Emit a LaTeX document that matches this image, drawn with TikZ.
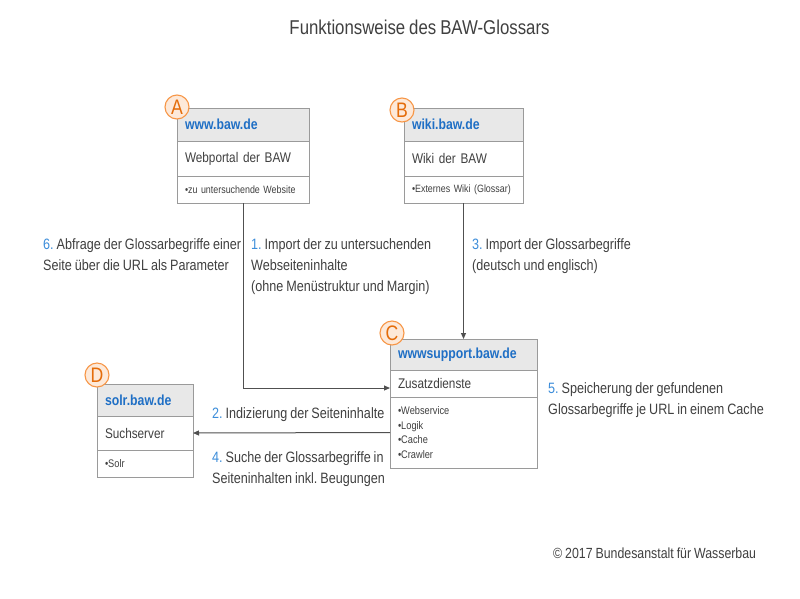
\documentclass[tikz,border=0pt]{standalone}
\usepackage{fontspec}
\setmainfont{Liberation Sans}[FakeStretch=0.84,WordSpace=0.85]
\usetikzlibrary{arrows.meta,calc,backgrounds}
\frenchspacing
\definecolor{txt}{HTML}{404040}
\definecolor{blu}{HTML}{1F6FC5}
\definecolor{numb}{HTML}{3C8DDA}
\definecolor{hdr}{HTML}{E8E8E8}
\definecolor{brd}{HTML}{9A9A9A}
\definecolor{orf}{HTML}{FDE9D9}
\definecolor{orb}{HTML}{F79646}
\definecolor{ort}{HTML}{E46C0A}
\definecolor{arrc}{HTML}{505050}
\definecolor{shd}{HTML}{E4E2D8}
\definecolor{shd2}{HTML}{F1F0EA}
\newcommand\nr[1]{\rule{0pt}{12pt}\textcolor{numb}{#1}}
\begin{document}
\begin{tikzpicture}[x=1pt,y=-1pt,
  sec/.style={draw=brd, line width=0.9pt, anchor=north west, inner ysep=0pt, inner xsep=8pt, align=left, outer sep=0pt, fill=white},
  hd/.style={sec, fill=hdr, text=blu, font={\fontsize{14.6}{16}\selectfont\bfseries}},
  md/.style={sec, text=txt, font={\fontsize{14}{16}\selectfont}},
  bt/.style={sec, text=txt, font={\fontsize{10.6}{14.7}\selectfont}},
  btc/.style={sec, text=txt, font={\fontsize{11}{14.7}\selectfont}},
  badge/.style={circle, draw=orb, fill=orf, line width=1.1pt, minimum size=24pt, inner sep=0pt, text=ort, font={\fontsize{21}{21}\selectfont}},
  lbl/.style={anchor=north west, inner sep=0pt, align=left, text=txt, font={\fontsize{15}{21}\selectfont}},
  arr/.style={draw=arrc, line width=1pt, -{Triangle[length=6pt,width=5pt]}},
]
\useasboundingbox[fill=white] (0,0) rectangle (800,598);

% Title
\node[anchor=base, inner sep=0pt, text=txt, font={\fontsize{20}{22}\selectfont}] (title) at (419.5,34) {Funktionsweise des BAW-Glossars};

% Box A
\node[hd, text width=116pt, minimum height=33pt] (Ahead) at (177,108) {www.baw.de};
\node[md, text width=116pt, minimum height=35pt] (Amid) at (Ahead.south west) {Webportal der BAW};
\node[bt, text width=116pt, minimum height=27pt] (Abot) at (Amid.south west) {•zu untersuchende Website};
% Box B
\node[hd, text width=103pt, minimum height=33pt] (Bhead) at (404,108) {wiki.baw.de};
\node[md, text width=103pt, minimum height=35pt] (Bmid) at (Bhead.south west) {Wiki der BAW};
\node[bt, text width=103pt, minimum height=27pt] (Bbot) at (Bmid.south west) {•Externes Wiki (Glossar)};
% Box C
\node[hd, text width=131pt, minimum height=31pt] (Chead) at (390,339) {wwwsupport.baw.de};
\node[md, text width=131pt, minimum height=27pt] (Cmid) at (Chead.south west) {Zusatzdienste};
\node[btc, text width=131pt, minimum height=71pt] (Cbot) at (Cmid.south west) {•Webservice\\•Logik\\•Cache\\•Crawler};
% Box D
\node[hd, text width=80pt, minimum height=32pt] (Dhead) at (97,384) {solr.baw.de};
\node[md, text width=80pt, minimum height=34pt] (Dmid) at (Dhead.south west) {Suchserver};
\node[btc, text width=80pt, minimum height=27pt] (Dbot) at (Dmid.south west) {•Solr};

% shadows
\begin{scope}[on background layer]
\foreach \h/\b in {Ahead/Abot, Bhead/Bbot, Chead/Cbot, Dhead/Dbot}{
  \fill[shd2] ($(\h.north west)+(4.5,4.5)$) rectangle ($(\b.south east)+(4.5,4.5)$);
  \fill[shd] ($(\h.north west)+(2.5,2.5)$) rectangle ($(\b.south east)+(2.5,2.5)$);
}
\end{scope}

% badges
\node[badge] (Abadge) at (177,107) {A};
\node[badge] (Bbadge) at (402,110) {B};
\node[badge] (Cbadge) at (392,333) {C};
\node[badge] (Dbadge) at (97,375) {D};

% connectors
\draw[arr] (Abot.south) |- ([yshift=-4.5pt]Cmid.west);
\draw[arr] (Bbot.south) -- (Chead.north);
\draw[arr] (Cbot.west) -- (Dmid.east);

% labels (top = first baseline - 12)
\node[lbl] (L6) at (43,237) {\nr{6.} Abfrage der Glossarbegriffe einer\\Seite über die URL als Parameter};
\node[lbl] (L1) at (251,237) {\nr{1.} Import der zu untersuchenden\\Webseiteninhalte\\(ohne Menüstruktur und Margin)};
\node[lbl] (L3) at (472,237) {\nr{3.} Import der Glossarbegriffe\\(deutsch und englisch)};
\node[lbl] (L5) at (548,381) {\nr{5.} Speicherung der gefundenen\\Glossarbegriffe je URL in einem Cache};
\node[lbl] (L2) at (212,406) {\nr{2.} Indizierung der Seiteninhalte};
\node[lbl] (L4) at (212,450) {\nr{4.} Suche der Glossarbegriffe in\\Seiteninhalten inkl. Beugungen};

\node[anchor=base west, inner sep=0pt, text=txt, font={\fontsize{14.7}{18}\selectfont}] (copy) at (553,558) {© 2017 Bundesanstalt für Wasserbau};
\end{tikzpicture}
\end{document}
